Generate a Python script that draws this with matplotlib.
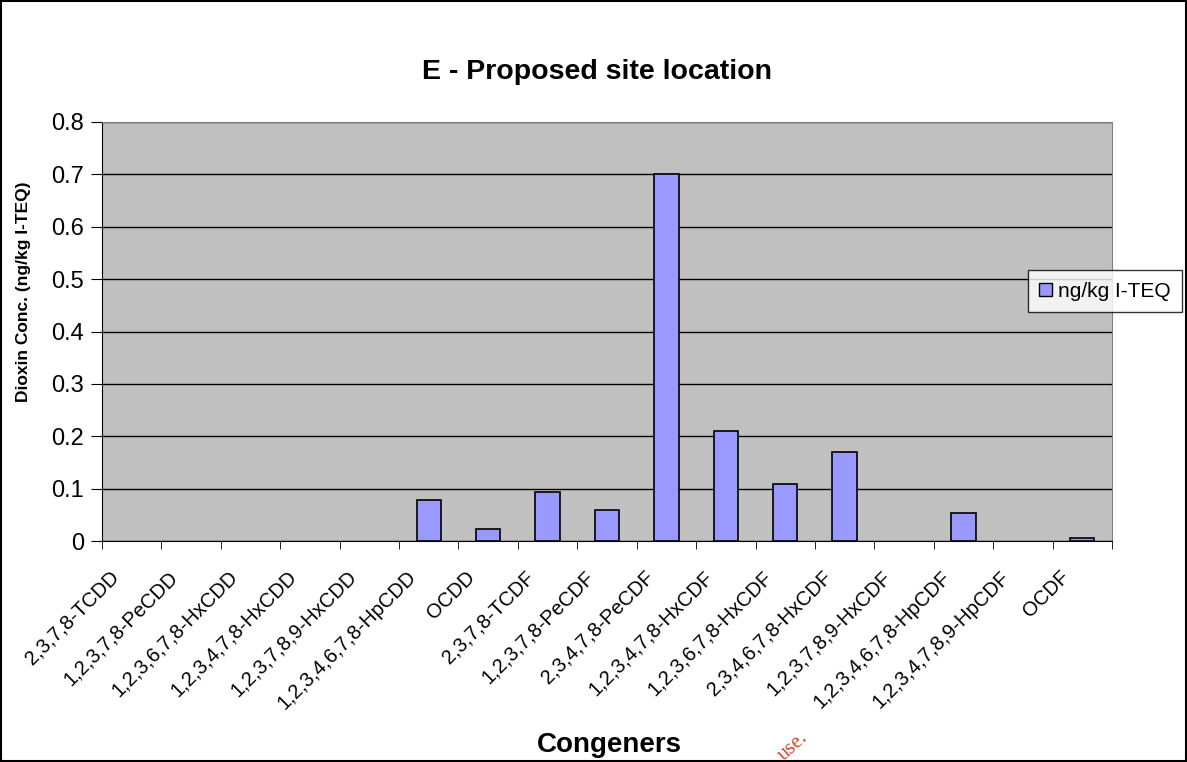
import matplotlib
matplotlib.use("Agg")
import matplotlib.pyplot as plt
import matplotlib.transforms as mtransforms
from matplotlib.patches import Rectangle
import numpy as np

plt.rcParams['font.family'] = ['Liberation Sans', 'DejaVu Sans']

# data
congeners = ["2,3,7,8-TCDD", "1,2,3,7,8-PeCDD", "1,2,3,6,7,8-HxCDD",
             "1,2,3,4,7,8-HxCDD", "1,2,3,7,8,9-HxCDD", "1,2,3,4,6,7,8-HpCDD",
             "OCDD", "2,3,7,8-TCDF", "1,2,3,7,8-PeCDF", "2,3,4,7,8-PeCDF",
             "1,2,3,4,7,8-HxCDF", "1,2,3,6,7,8-HxCDF", "2,3,4,6,7,8-HxCDF",
             "1,2,3,7,8,9-HxCDF", "1,2,3,4,6,7,8-HpCDF", "1,2,3,4,7,8,9-HpCDF",
             "OCDF"]
teq = [0, 0, 0, 0, 0, 0.078, 0.023, 0.094, 0.059, 0.70,
       0.21, 0.109, 0.170, 0, 0.053, 0, 0.006]

fig = plt.figure(figsize=(11.87, 7.62), dpi=100)
ax = fig.add_axes([0.0859, 0.29, 0.8509, 0.5499])
ax.set_facecolor("#C0C0C0")

x = np.arange(len(congeners))
# empty congeners get no outline, as in the original
lw = [1.2 if v > 0 else 0 for v in teq]
ax.bar(x, teq, width=0.41, color="#9999FF", edgecolor="black",
       linewidth=lw, label="ng/kg I-TEQ", zorder=3)

ax.set_xlim(-0.5, len(congeners) - 0.5)
ax.set_ylim(0, 0.8)
ax.set_yticks(np.arange(0, 0.81, 0.1))
ax.set_yticklabels(["0"] + ["%.1f" % v for v in np.arange(0.1, 0.81, 0.1)],
                   fontsize=17)
ax.yaxis.grid(True, color="black", linewidth=1, zorder=1)
ax.set_axisbelow(True)

ax.set_xticks(x)
ax.set_xticklabels(congeners, rotation=45, ha="right", va="center",
                   rotation_mode="anchor", fontsize=14.5)
ax.tick_params(axis="x", length=0, pad=18)
shift = mtransforms.ScaledTranslation(-0.16, -0.08, fig.dpi_scale_trans)
for lab in ax.get_xticklabels():
    lab.set_transform(lab.get_transform() + shift)
ax.set_xticks(np.arange(-0.5, len(congeners)), minor=True)
ax.tick_params(axis="x", which="minor", length=6, color="black")
ax.tick_params(axis="y", length=8, color="black", pad=5)

for side in ["top", "right"]:
    ax.spines[side].set_color("#808080")
for side in ["left", "bottom"]:
    ax.spines[side].set_color("black")

fig.text(0.0194, 0.617, "Dioxin Conc. (ng/kg I-TEQ)", rotation=90,
         ha="center", va="center", fontsize=12.5, fontweight="bold")
fig.text(0.513, 0.022, "Congeners", ha="center", va="center",
         fontsize=20, fontweight="bold")
fig.text(0.503, 0.906, "E - Proposed site location", ha="center",
         va="center", fontsize=20.5, fontweight="bold")

leg = fig.legend(loc="center left", bbox_to_anchor=(0.866, 0.618),
                 fontsize=15, frameon=True, fancybox=False,
                 handlelength=0.6, handleheight=0.6, handletextpad=0.3,
                 borderpad=0.55, borderaxespad=0)
leg.get_frame().set_edgecolor("black")
leg.get_frame().set_linewidth(1)
for h in leg.legend_handles:
    h.set_linewidth(1.0)
    h.set_edgecolor("black")

fig.text(0.668, 0.02, "use.", color="#D9442B", fontsize=15,
         family=["Liberation Serif", "DejaVu Serif"], rotation=42,
         ha="center", va="center")

fig.patches.append(Rectangle((0.001, 0.001), 0.998, 0.998,
                            transform=fig.transFigure, fill=False,
                            edgecolor="black", linewidth=1.5))

fig.savefig("out.png", dpi=100)
